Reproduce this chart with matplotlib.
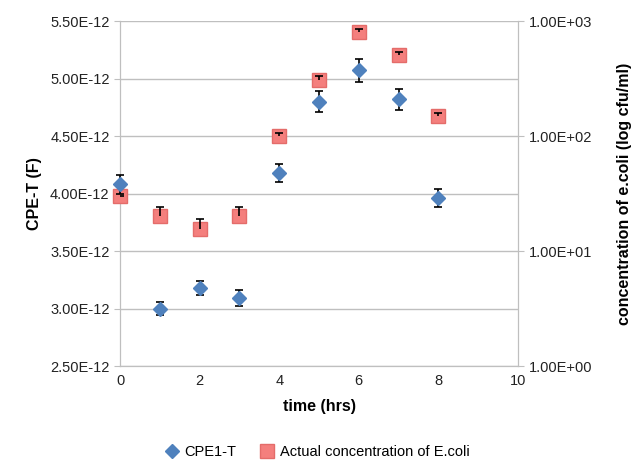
import matplotlib.pyplot as plt
from matplotlib.ticker import FixedLocator

# time points (hrs)
hours = [0, 1, 2, 3, 4, 5, 6, 7, 8]

# CPE1-T values (units of 1E-12 F) and error
cpe = [4.08, 3.00, 3.18, 3.09, 4.18, 4.80, 5.07, 4.82, 3.96]
cpe_err = [0.08, 0.06, 0.06, 0.07, 0.08, 0.09, 0.10, 0.09, 0.08]

# actual E.coli concentration (cfu/ml) and upper error
ecoli = [30, 20, 15.5, 20, 100, 310, 800, 505, 150]
ecoli_err = [0, 4, 3.5, 4, 6, 20, 50, 30, 10]

left_ticks = [2.5, 3.0, 3.5, 4.0, 4.5, 5.0, 5.5]
right_ticks = [1, 10, 100, 1000]
x_ticks = [0, 2, 4, 6, 8, 10]

plt.rcParams['font.family'] = ['Liberation Sans', 'DejaVu Sans']

fig = plt.figure(figsize=(6.33, 4.61), dpi=100)
ax = fig.add_axes([0.1896, 0.206, 0.6287, 0.7484])
ax2 = ax.twinx()

grid_col = '#bfbfbf'
ax.set_xlim(0, 10)
ax.set_ylim(2.5, 5.5)
ax.yaxis.set_major_locator(FixedLocator(left_ticks))
ax.set_yticklabels(['%.2fE-12' % v for v in left_ticks])
ax.set_xticks(x_ticks)
ax.grid(axis='y', color=grid_col, linewidth=1)
ax.set_axisbelow(True)

ax2.set_yscale('log')
ax2.set_ylim(1, 1000)
ax2.yaxis.set_major_locator(FixedLocator(right_ticks))
ax2.yaxis.set_minor_locator(FixedLocator([]))
ax2.set_yticklabels(['1.00E+00', '1.00E+01', '1.00E+02', '1.00E+03'])

for a in (ax, ax2):
    for s in a.spines.values():
        s.set_color(grid_col)
    a.spines['top'].set_visible(False)
    a.tick_params(colors=grid_col, labelcolor='#222222', labelsize=10.5, length=4)
ax.tick_params(axis='x', length=0, pad=6)

# red squares first, on the log axis
ax2.plot(hours, ecoli, 's', color='#f47f7d', markeredgecolor='#e46c6a',
         markersize=10, zorder=3, clip_on=False, label='Actual concentration of E.coli')
# upper-only error bars drawn over the squares
tops = [v + e for v, e in zip(ecoli, ecoli_err)]
ax2.vlines(hours, ecoli, tops, color='black', linewidth=1.2, zorder=4)
ax2.plot(hours, tops, '_', color='black', markersize=6, markeredgewidth=1.2, zorder=4)

# blue diamonds on top, using the left axis scale
eb = ax2.errorbar(hours, cpe, yerr=cpe_err, fmt='D', color='#4f81bd', markersize=7,
                  ecolor='black', elinewidth=1.2, capsize=3, capthick=1.2, zorder=5,
                  label='CPE1-T', transform=ax.transData)
for art in (eb.lines[0],) + tuple(eb.lines[1]) + tuple(eb.lines[2]):
    art.set_clip_on(False)
    art.set_transform(ax.transData)
ax2.set_ylim(1, 1000)

ax.set_xlabel('time (hrs)', fontsize=11.5, fontweight='bold', labelpad=8)
ax.set_ylabel('CPE-T (F)', fontsize=11.5, fontweight='bold', labelpad=6)
ax2.set_ylabel('concentration of e.coli (log cfu/ml)', fontsize=11.5,
               fontweight='bold', labelpad=18)

h2, l2 = ax2.get_legend_handles_labels()
fig.legend([h2[1][0], h2[0]], [l2[1], l2[0]], loc='center', ncol=2,
           bbox_to_anchor=(0.5, 0.02), frameon=False, fontsize=10.5,
           handletextpad=0.3, columnspacing=1.5, handlelength=1.2)

fig.savefig('out.png', dpi=100)
